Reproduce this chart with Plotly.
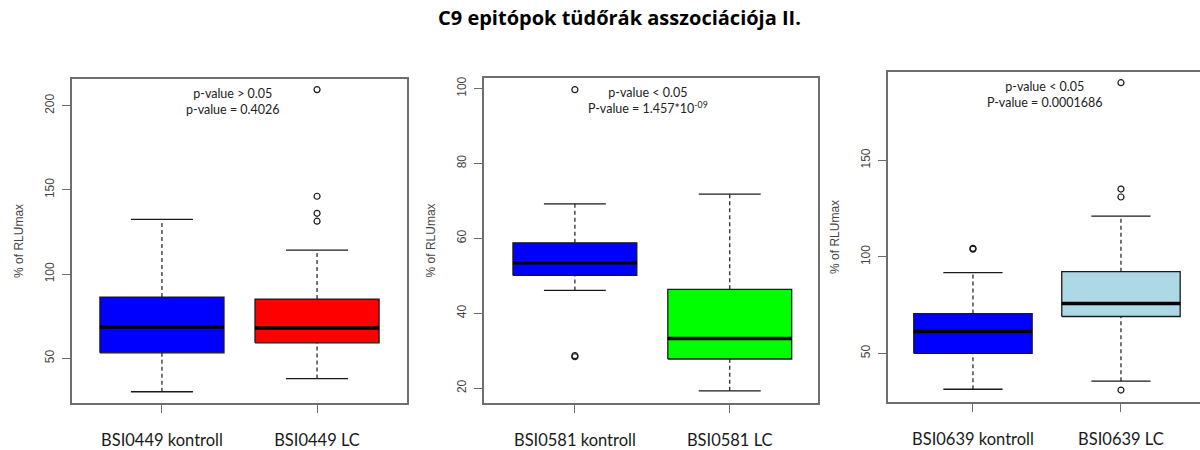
import plotly.graph_objects as go

# ---- data: five-number summaries and outliers per panel ----
labels_0449 = ["BSI0449 kontroll", "BSI0449 LC"]
lower_0449 = [30.2, 38.0]
q1_0449 = [53.3, 59.2]
median_0449 = [68.6, 68.0]
q3_0449 = [86.4, 85.2]
upper_0449 = [132.5, 114.2]
outliers_0449 = [[], [209.5, 146.2, 136.1, 131.4]]
colors_0449 = ["#0000FF", "#FF0000"]
ticks_0449 = [50, 100, 150, 200]
pnote_0449 = "p-value > 0.05<br>p-value = 0.4026"

labels_0581 = ["BSI0581 kontroll", "BSI0581 LC"]
lower_0581 = [46.1, 19.3]
q1_0581 = [50.1, 27.8]
median_0581 = [53.5, 33.3]
q3_0581 = [58.8, 46.4]
upper_0581 = [69.2, 71.8]
outliers_0581 = [[99.7, 28.7, 28.4], []]
colors_0581 = ["#0000FF", "#00FF00"]
ticks_0581 = [20, 40, 60, 80, 100]
pnote_0581 = "p-value < 0.05<br>P-value = 1.457*10<sup>-09</sup>"

labels_0639 = ["BSI0639 kontroll", "BSI0639 LC"]
lower_0639 = [31.4, 35.6]
q1_0639 = [50.0, 69.1]
median_0639 = [61.3, 75.8]
q3_0639 = [70.6, 92.3]
upper_0639 = [91.8, 121.1]
outliers_0639 = [[104.4, 104.0], [190.2, 135.1, 131.0, 31.0]]
colors_0639 = ["#0000FF", "#ADD8E6"]
ticks_0639 = [50, 100, 150]
pnote_0639 = "p-value < 0.05<br>P-value = 0.0001686"

title_text = "<b>C9 epitópok tüdőrák asszociációja II.</b>"
y_title = "% of RLUmax"

panels = [
    dict(labels=labels_0449, lo=lower_0449, q1=q1_0449, med=median_0449, q3=q3_0449,
         hi=upper_0449, out=outliers_0449, colors=colors_0449, ticks=ticks_0449,
         note=pnote_0449, dom_x=[72 / 1200, 407 / 1200], dom_y=[1 - 404 / 450, 1 - 78 / 450],
         xr=[0.42, 2.58], yr=[23.4, 216.0], note_x=0.48, frame_right=True),
    dict(labels=labels_0581, lo=lower_0581, q1=q1_0581, med=median_0581, q3=q3_0581,
         hi=upper_0581, out=outliers_0581, colors=colors_0581, ticks=ticks_0581,
         note=pnote_0581, dom_x=[484 / 1200, 818 / 1200], dom_y=[1 - 404 / 450, 1 - 77 / 450],
         xr=[0.413, 2.57], yr=[16.0, 102.9], note_x=0.49, frame_right=True),
    dict(labels=labels_0639, lo=lower_0639, q1=q1_0639, med=median_0639, q3=q3_0639,
         hi=upper_0639, out=outliers_0639, colors=colors_0639, ticks=ticks_0639,
         note=pnote_0639, dom_x=[888 / 1200, 1.0], dom_y=[1 - 403 / 450, 1 - 71 / 450],
         xr=[0.426, 2.534], yr=[24.7, 195.9], note_x=0.503, frame_right=False),
]

BOX_HALF = 0.4
CAP_HALF = 0.2
FRAME = "#6e6e6e"
TEXT_FONT = "Lato"
AXIS_FONT = "Liberation Sans"

fig = go.Figure()
annotations = []
layout_axes = {}

for k, p in enumerate(panels):
    n = "" if k == 0 else str(k + 1)
    xa, ya = "x" + n, "y" + n
    for i in range(2):
        c = i + 1
        # box body
        fig.add_trace(go.Scatter(
            x=[c - BOX_HALF, c + BOX_HALF, c + BOX_HALF, c - BOX_HALF, c - BOX_HALF],
            y=[p["q1"][i], p["q1"][i], p["q3"][i], p["q3"][i], p["q1"][i]],
            fill="toself", fillcolor=p["colors"][i], mode="lines",
            line=dict(color="#1a1a1a", width=1.3), xaxis=xa, yaxis=ya,
            hoverinfo="skip", showlegend=False))
        # dashed whiskers
        fig.add_trace(go.Scatter(
            x=[c, c, None, c, c],
            y=[p["lo"][i], p["q1"][i], None, p["q3"][i], p["hi"][i]],
            mode="lines", line=dict(color="#1a1a1a", width=1.2, dash="4px,3px"),
            xaxis=xa, yaxis=ya, hoverinfo="skip", showlegend=False))
        # whisker caps
        fig.add_trace(go.Scatter(
            x=[c - CAP_HALF, c + CAP_HALF, None, c - CAP_HALF, c + CAP_HALF],
            y=[p["lo"][i], p["lo"][i], None, p["hi"][i], p["hi"][i]],
            mode="lines", line=dict(color="#1a1a1a", width=1.3),
            xaxis=xa, yaxis=ya, hoverinfo="skip", showlegend=False))
        # median
        fig.add_trace(go.Scatter(
            x=[c - BOX_HALF, c + BOX_HALF], y=[p["med"][i], p["med"][i]],
            mode="lines", line=dict(color="#000000", width=3.5),
            xaxis=xa, yaxis=ya, hoverinfo="skip", showlegend=False))
        # outliers
        if p["out"][i]:
            fig.add_trace(go.Scatter(
                x=[c] * len(p["out"][i]), y=p["out"][i], mode="markers",
                marker=dict(symbol="circle-open", size=6, color="#1a1a1a",
                            line=dict(width=1.2)),
                xaxis=xa, yaxis=ya, hoverinfo="skip", showlegend=False))

    layout_axes["xaxis" + n] = dict(
        domain=p["dom_x"], range=p["xr"], anchor=ya, tickmode="array",
        tickvals=[1, 2], ticktext=p["labels"], ticks="outside", ticklen=8,
        tickcolor=FRAME, tickwidth=1.3, showline=True, linecolor=FRAME, linewidth=1.6,
        mirror=True, showgrid=False, zeroline=False, ticklabelstandoff=13,
        tickfont=dict(family=TEXT_FONT, size=16.5, color="#1a1a1a"), fixedrange=True)
    layout_axes["yaxis" + n] = dict(
        domain=p["dom_y"], range=p["yr"], anchor=xa, tickmode="array",
        tickvals=p["ticks"], ticks="outside", ticklen=8, tickcolor=FRAME, tickwidth=1.3,
        showline=True, linecolor=FRAME, linewidth=1.6, mirror=p["frame_right"],
        showgrid=False, zeroline=False, tickangle=-90, ticklabelstandoff=3,
        tickfont=dict(family=AXIS_FONT, size=12, color="#444444"), fixedrange=True)

    annotations.append(dict(
        text=p["note"], xref=xa + " domain", yref=ya + " domain", x=p["note_x"], y=0.93,
        xanchor="center", yanchor="middle", showarrow=False, align="center",
        font=dict(family=TEXT_FONT, size=12.5, color="#222222")))
    annotations.append(dict(
        text=y_title, xref=xa + " domain", yref=ya + " domain", x=0, y=0.5, xshift=-53,
        xanchor="center", yanchor="middle", textangle=-90, showarrow=False,
        font=dict(family=AXIS_FONT, size=12, color="#444444")))

annotations.append(dict(
    text=title_text, xref="paper", yref="paper", x=619 / 1200, y=1 - 17 / 450,
    xanchor="center", yanchor="middle", showarrow=False,
    font=dict(family="Open Sans", size=20, color="#000000")))

fig.update_layout(
    width=1200, height=450, margin=dict(l=0, r=0, t=0, b=0),
    paper_bgcolor="white", plot_bgcolor="white", annotations=annotations,
    **layout_axes)

fig.write_html("out.html", config=dict(displayModeBar=False))
